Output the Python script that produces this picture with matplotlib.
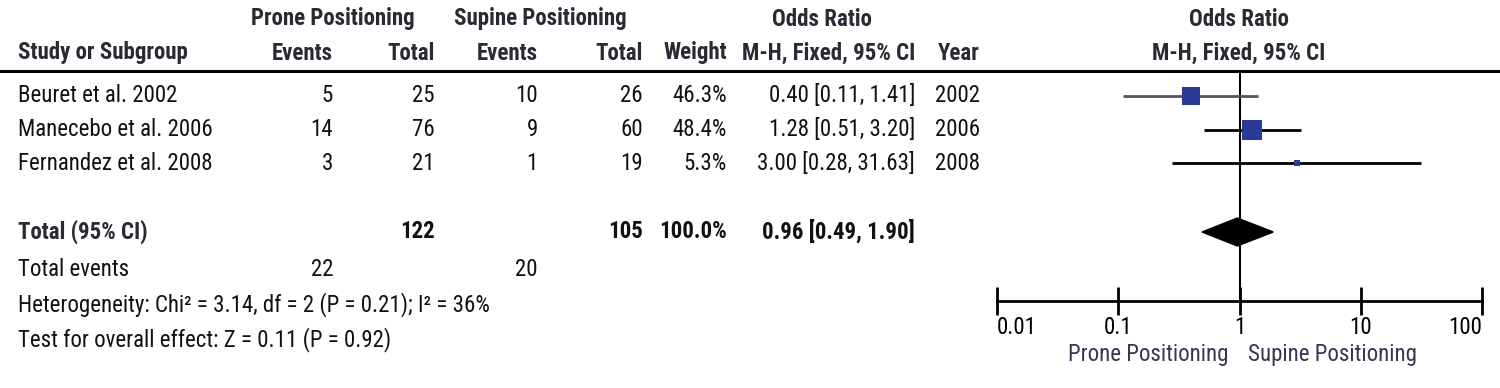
import numpy as np
import matplotlib
matplotlib.use("Agg")
import matplotlib.pyplot as plt
from matplotlib.patches import Polygon

plt.rcParams['font.family'] = ['Roboto Condensed', 'Archivo Narrow', 'DejaVu Sans']

# study data
studies = ["Beuret et al. 2002", "Manecebo et al. 2006", "Fernandez et al. 2008"]
prone_events = [5, 14, 3]
prone_total = [25, 76, 21]
supine_events = [10, 9, 1]
supine_total = [26, 60, 19]
weights = [46.3, 48.4, 5.3]
odds = [0.40, 1.28, 3.00]
ci_lo = [0.11, 0.51, 0.28]
ci_hi = [1.41, 3.20, 31.63]
years = [2002, 2006, 2008]

# pooled
tot_prone, tot_supine = 122, 105
tot_events_prone, tot_events_supine = 22, 20
pooled_or, pooled_lo, pooled_hi = 0.96, 0.49, 1.90
het_text = "Heterogeneity: Chi\u00b2 = 3.14, df = 2 (P = 0.21); I\u00b2 = 36%"
eff_text = "Test for overall effect: Z = 0.11 (P = 0.92)"

xticks = [0.01, 0.1, 1, 10, 100]
xticklabels = ["0.01", "0.1", "1", "10", "100"]

W, H = 1500, 388
fig = plt.figure(figsize=(W / 100, H / 100), dpi=100)

FS = 16.5
HEAD = '#2a2a35'
TXT = '#111111'


def t(x, y, s, ha='left', bold=False, color=TXT, fs=FS):
    fig.text(x / W, 1 - y / H, s, ha=ha, va='center', fontsize=fs,
             fontweight='bold' if bold else 'normal', color=color)


# headers
t(333, 19, "Prone Positioning", 'center', True, HEAD)
t(540, 19, "Supine Positioning", 'center', True, HEAD)
t(822, 19, "Odds Ratio", 'center', True, HEAD)
t(1239, 19, "Odds Ratio", 'center', True, HEAD)
t(18, 53, "Study or Subgroup", 'left', True, HEAD)
t(333, 53, "Events", 'right', True, HEAD)
t(435, 53, "Total", 'right', True, HEAD)
t(538, 53, "Events", 'right', True, HEAD)
t(643, 53, "Total", 'right', True, HEAD)
t(727, 53, "Weight", 'right', True, HEAD)
t(915, 53, "M-H, Fixed, 95% CI", 'right', True, HEAD)
t(980, 53, "Year", 'right', True, HEAD)
t(1239, 53, "M-H, Fixed, 95% CI", 'center', True, HEAD)

fig.add_artist(plt.Line2D([0, 1], [1 - 71 / H, 1 - 71 / H], color='black', lw=2.2))

row_y = [96, 130, 163]
for i, y in enumerate(row_y):
    t(18, y, studies[i])
    t(333, y, str(prone_events[i]), 'right')
    t(435, y, str(prone_total[i]), 'right')
    t(538, y, str(supine_events[i]), 'right')
    t(643, y, str(supine_total[i]), 'right')
    t(727, y, f"{weights[i]:.1f}%", 'right')
    t(915, y, f"{odds[i]:.2f} [{ci_lo[i]:.2f}, {ci_hi[i]:.2f}]", 'right')
    t(980, y, str(years[i]), 'right')

tot_y = 232
t(18, tot_y, "Total (95% CI)", 'left', True, HEAD)
t(435, tot_y, str(tot_prone), 'right', True)
t(643, tot_y, str(tot_supine), 'right', True)
t(727, tot_y, "100.0%", 'right', True)
t(915, tot_y, f"{pooled_or:.2f} [{pooled_lo:.2f}, {pooled_hi:.2f}]", 'right', True)

t(18, 270, "Total events")
t(333, 270, str(tot_events_prone), 'right')
t(538, 270, str(tot_events_supine), 'right')
t(18, 305, het_text)
t(18, 340, eff_text)

# forest panel: pixel rows 71..301
x0, x1 = 997, 1482
y_top, y_bot = 71, 301
ax = fig.add_axes([x0 / W, 1 - y_bot / H, (x1 - x0) / W, (y_bot - y_top) / H])
ax.set_xscale('log')
ax.set_xlim(0.01, 100)
ax.set_ylim(y_bot, y_top)
ax.patch.set_visible(False)
for s in ['top', 'left', 'right']:
    ax.spines[s].set_visible(False)
ax.spines['bottom'].set_linewidth(2)
ax.set_yticks([])
ax.set_xticks(xticks)
ax.set_xticklabels(xticklabels)
ax.xaxis.set_minor_locator(matplotlib.ticker.NullLocator())
ax.tick_params(axis='x', direction='inout', length=20, width=2, labelsize=FS, pad=1, colors='black')
tl = ax.get_xticklabels()
tl[0].set_ha('left')
tl[-1].set_ha('right')
ax.axvline(1, color='black', lw=1.5, zorder=1)

ci_colors = ['#555555', 'black', 'black']
for i, y in enumerate(row_y):
    ax.plot([ci_lo[i], ci_hi[i]], [y, y], color=ci_colors[i], lw=2, zorder=2, solid_capstyle='butt')
    ax.plot(odds[i], y, marker='s', markersize=2 * np.sqrt(weights[i]), color='#2b3a96',
            markeredgewidth=0, zorder=3)

dh = 14
ax.add_patch(Polygon([[pooled_lo, tot_y], [pooled_or, tot_y - dh], [pooled_hi, tot_y],
                      [pooled_or, tot_y + dh]], closed=True, color='black', zorder=3))

t(1228, 355, "Prone Positioning", 'right', False, '#3a3550')
t(1248, 355, "Supine Positioning", 'left', False, '#3a3550')

fig.savefig('out.png', dpi=100)
